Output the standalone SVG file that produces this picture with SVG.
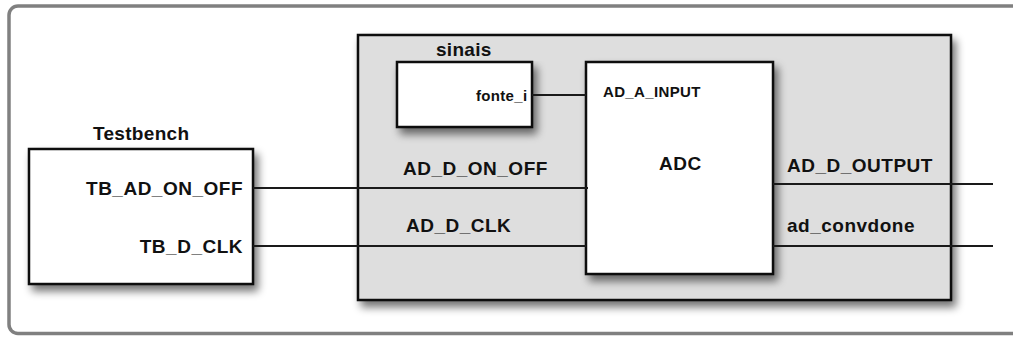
<svg xmlns="http://www.w3.org/2000/svg" width="1013" height="338" viewBox="0 0 1013 338">
  <defs>
    <filter id="shadow" x="-10%" y="-10%" width="130%" height="140%">
      <feGaussianBlur in="SourceAlpha" stdDeviation="4.5"/>
      <feOffset dx="4" dy="6" result="blur"/>
      <feComponentTransfer><feFuncA type="linear" slope="0.55"/></feComponentTransfer>
      <feMerge><feMergeNode/><feMergeNode in="SourceGraphic"/></feMerge>
    </filter>
    <style>
      .frame { fill: #ffffff; stroke: #808080; stroke-width: 3.5; }
      .box { fill: #ffffff; stroke: #111111; stroke-width: 2.5; }
      .group { fill: #dedede; stroke: #111111; stroke-width: 2.5; }
      .wire { stroke: #1a1a1a; stroke-width: 2; fill: none; }
      text { font-family: "Liberation Sans", Arial, sans-serif; font-weight: bold; fill: #111111; }
      .big { font-size: 19px; letter-spacing: 0.5px; }
      .title { font-size: 19px; letter-spacing: 0.3px; }
      .small { font-size: 15px; letter-spacing: 0.35px; }
      .end { text-anchor: end; }
    </style>
  </defs>

  <!-- outer frame -->
  <rect class="frame" x="9" y="6" width="1030" height="327.5" rx="9"/>

  <!-- sinais container -->
  <g id="sinais">
    <rect class="group" x="358" y="35" width="593" height="265" filter="url(#shadow)"/>
    <text class="title" x="436" y="56">sinais</text>
  </g>

  <!-- signal source -->
  <g id="fonte">
    <rect class="box" x="397" y="62" width="135" height="65" filter="url(#shadow)"/>
    <text class="small end" x="527.5" y="101">fonte_i</text>
  </g>

  <!-- converter -->
  <g id="adc">
    <rect class="box" x="586" y="62" width="187" height="212" filter="url(#shadow)"/>
    <text class="small" x="603" y="97">AD_A_INPUT</text>
    <text class="big" x="659" y="170">ADC</text>
  </g>

  <!-- testbench -->
  <g id="testbench">
    <rect class="box" x="29" y="149" width="224" height="135" filter="url(#shadow)"/>
    <text class="title" x="93" y="140">Testbench</text>
    <text class="big end" x="243" y="195">TB_AD_ON_OFF</text>
    <text class="big end" x="243" y="253">TB_D_CLK</text>
  </g>

  <!-- wires and signal names -->
  <g id="connectors">
    <line class="wire" x1="532" y1="95" x2="586" y2="95"/>
    <line class="wire" x1="253" y1="188" x2="588" y2="188"/>
    <line class="wire" x1="253" y1="246" x2="586" y2="246"/>
    <line class="wire" x1="773" y1="184" x2="993" y2="184"/>
    <line class="wire" x1="773" y1="246" x2="993" y2="246"/>
    <text class="big" x="403" y="175">AD_D_ON_OFF</text>
    <text class="big" x="406" y="232">AD_D_CLK</text>
    <text class="big" x="787" y="172">AD_D_OUTPUT</text>
    <text class="big" x="787" y="232">ad_convdone</text>
  </g>
</svg>
